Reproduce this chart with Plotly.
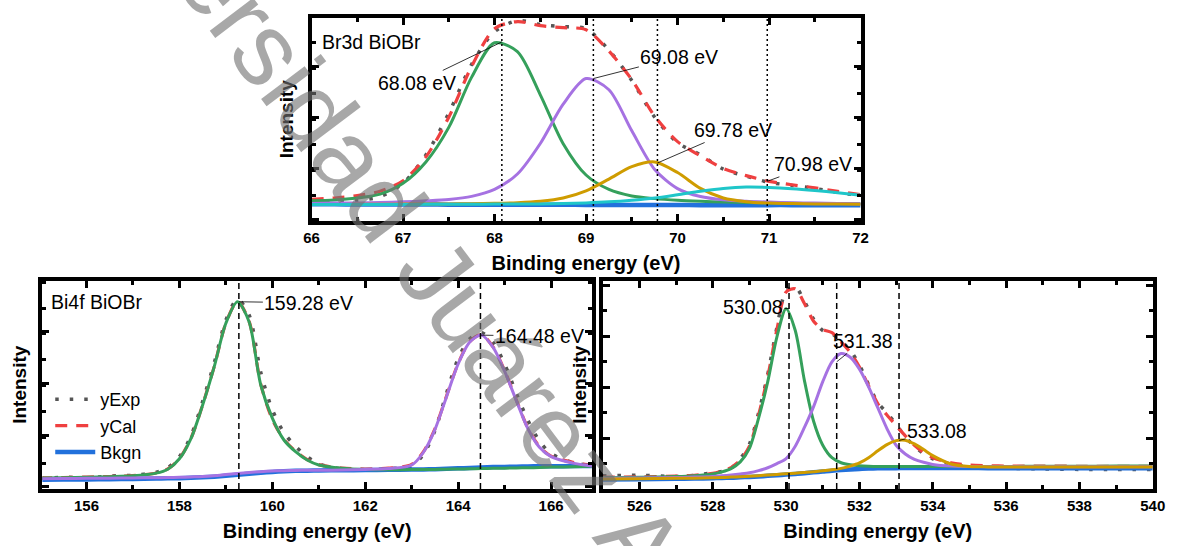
import plotly.graph_objects as go

FONT = "Liberation Sans, Arial, Helvetica, sans-serif"

# ---------------- Br3d BiOBr ----------------
br_energy = [66.0, 66.25, 66.5, 66.75, 67.0, 67.25, 67.5, 67.75, 68.0, 68.25, 68.5, 68.75,
             69.0, 69.25, 69.5, 69.75, 70.0, 70.25, 70.5, 70.75, 71.0, 71.25, 71.5, 71.75, 72.0]
br_exp = [8.5, 9.5, 10.0, 12.0, 18.5, 32.5, 53.0, 77.0, 93.0, 98.5, 96.5, 95.5,
          94.5, 84.0, 69.0, 51.0, 38.5, 32.5, 25.5, 22.0, 19.0, 17.5, 16.0, 14.0, 12.5]
br_cal = [10.7, 11.3, 12.5, 14.6, 19.8, 31.5, 51.0, 76.0, 94.5, 98.0, 96.0, 95.0,
          94.0, 83.5, 69.5, 51.5, 39.0, 32.0, 25.8, 22.3, 19.5, 17.8, 16.3, 14.6, 12.9]
br_bkg = [8.2, 8.2, 8.1, 8.1, 8.1, 8.1, 8.0, 8.0, 8.0, 8.0, 8.0, 8.0,
          7.9, 7.9, 7.9, 7.9, 7.9, 7.8, 7.8, 7.8, 7.8, 7.8, 7.7, 7.7, 7.7]
br_p1 = [9.9, 10.3, 11.3, 13.2, 18.5, 29.0, 46.0, 70.7, 87.6, 83.2, 62.0, 38.0,
         22.6, 15.5, 12.3, 11.0, 10.2, 9.7, 9.3, 9.1, 8.9, 8.7, 8.6, 8.6, 8.5]
br_p2 = [8.6, 8.8, 8.9, 9.1, 9.4, 9.9, 10.6, 12.1, 15.5, 23.1, 38.1, 57.4,
         70.0, 64.5, 44.3, 25.3, 15.9, 12.0, 10.4, 9.7, 9.3, 9.0, 8.8, 8.6, 8.5]
br_p3 = [8.1, 8.1, 8.2, 8.2, 8.3, 8.3, 8.4, 8.5, 8.7, 9.0, 9.7, 11.3,
         14.8, 20.6, 26.7, 29.0, 23.8, 16.0, 11.3, 9.5, 8.8, 8.6, 8.4, 8.3, 8.2]
br_p4 = [8.1, 8.1, 8.1, 8.1, 8.1, 8.2, 8.2, 8.2, 8.3, 8.3, 8.4, 8.6,
         8.9, 9.4, 10.2, 11.3, 12.9, 14.6, 16.0, 16.7, 16.5, 15.9, 15.0, 13.9, 12.7]
br_peaks = [68.08, 69.08, 69.78, 70.98]
br_peak_heights = [88.0, 70.0, 28.5, 19.5]

# ---------------- Bi4f BiOBr ----------------
bi_energy = [155.0, 155.5, 156.0, 156.5, 157.0, 157.5, 157.75, 158.0, 158.25, 158.5,
             158.75, 159.0, 159.25, 159.5, 159.75, 160.0, 160.25, 160.5, 160.75, 161.0,
             161.5, 162.0, 162.5, 163.0, 163.25, 163.5, 163.75, 164.0, 164.25, 164.5,
             164.75, 165.0, 165.25, 165.5, 165.75, 166.0, 166.5, 166.9]
bi_exp = [5.0, 5.6, 5.4, 6.2, 6.6, 8.0, 10.2, 15.5, 25.5, 42.0,
          60.5, 81.0, 91.0, 83.5, 56.0, 38.0, 27.0, 20.5, 15.5, 12.0,
          9.6, 9.2, 9.8, 11.0, 16.5, 28.0, 46.0, 62.5, 72.0, 75.0,
          70.5, 60.0, 46.0, 33.0, 23.0, 17.0, 12.5, 11.2]
bi_cal = [5.3, 5.5, 5.7, 6.0, 6.4, 7.7, 9.6, 14.6, 24.4, 40.4,
          58.8, 79.6, 89.9, 80.4, 50.3, 33.4, 23.8, 18.1, 14.1, 11.7,
          10.0, 9.6, 10.0, 11.8, 17.8, 28.8, 44.6, 60.2, 70.7, 74.0,
          68.2, 56.8, 42.8, 29.3, 20.3, 15.8, 12.6, 11.3]
bi_bkg = [4.4, 4.5, 4.6, 4.7, 4.8, 5.0, 5.1, 5.2, 5.4, 5.6,
          5.9, 6.3, 6.8, 7.3, 7.8, 8.2, 8.5, 8.7, 8.8, 8.9,
          9.0, 9.1, 9.2, 9.3, 9.4, 9.5, 9.7, 9.9, 10.1, 10.3,
          10.5, 10.6, 10.7, 10.8, 10.9, 10.9, 11.0, 11.0]
bi_p1 = [5.2, 5.4, 5.6, 5.9, 6.3, 7.6, 9.5, 14.5, 24.3, 40.3,
         58.7, 79.5, 89.8, 80.2, 50.0, 34.0, 23.5, 17.9, 13.9, 11.5,
         9.9, 9.3, 9.2, 9.3, 9.3, 9.4, 9.5, 9.6, 9.7, 9.8,
         9.9, 10.0, 10.1, 10.2, 10.3, 10.5, 10.7, 10.9]
bi_p2 = [4.9, 5.0, 5.1, 5.2, 5.3, 5.4, 5.5, 5.6, 5.8, 6.0,
         6.4, 6.9, 7.4, 7.9, 8.3, 8.6, 8.8, 8.9, 9.0, 9.0,
         9.1, 9.4, 9.8, 11.5, 17.5, 28.5, 44.3, 60.0, 70.5, 73.8,
         68.0, 56.5, 42.5, 29.0, 20.0, 15.5, 12.3, 11.0]
bi_peaks = [159.28, 164.48]
bi_peak_heights = [89.8, 73.8]

# ---------------- O1s ----------------
o_energy = [525.0, 526.0, 527.0, 527.5, 528.0, 528.25, 528.5, 528.75, 529.0, 529.25,
            529.5, 529.75, 530.0, 530.25, 530.5, 530.75, 531.0, 531.25, 531.5, 531.75,
            532.0, 532.25, 532.5, 532.75, 533.0, 533.25, 533.5, 533.75, 534.0, 534.5,
            535.0, 535.5, 536.0, 537.0, 538.0, 539.0, 540.0]
o_exp = [6.3, 6.6, 6.0, 6.5, 7.8, 8.4, 10.0, 14.5, 21.5, 36.5,
         55.0, 77.5, 95.0, 97.0, 90.0, 81.5, 76.0, 74.5, 71.0, 66.5,
         59.5, 50.0, 41.5, 36.5, 31.0, 25.0, 20.5, 17.0, 14.5, 12.0,
         10.8, 10.5, 10.0, 9.6, 9.4, 9.3, 9.4]
o_cal = [5.6, 5.8, 6.2, 6.6, 7.5, 8.6, 10.3, 13.8, 20.5, 35.5,
         54.0, 76.5, 94.5, 96.0, 89.0, 80.5, 76.5, 75.0, 70.5, 65.5,
         58.5, 49.5, 41.0, 35.5, 30.5, 25.5, 21.0, 17.5, 15.0, 12.5,
         11.5, 11.2, 11.0, 11.0, 10.9, 10.9, 10.9]
o_bkg = [4.6, 4.7, 4.9, 5.0, 5.2, 5.3, 5.4, 5.6, 5.8, 6.0,
         6.3, 6.6, 6.9, 7.2, 7.6, 8.0, 8.4, 8.8, 9.1, 9.4,
         9.6, 9.8, 9.9, 10.0, 10.0, 10.1, 10.1, 10.1, 10.1, 10.1,
         10.1, 10.0, 10.0, 10.0, 9.9, 9.9, 9.9]
o_p1 = [5.4, 5.6, 6.0, 6.4, 7.2, 8.2, 9.8, 13.0, 19.5, 34.0,
        51.5, 73.0, 86.5, 76.0, 52.0, 32.5, 21.0, 15.0, 12.6, 11.6,
        11.1, 10.9, 10.8, 10.8, 10.8, 10.8, 10.8, 10.8, 10.8, 10.8,
        10.8, 10.8, 10.8, 10.9, 10.9, 11.0, 11.0]
o_p2 = [5.2, 5.3, 5.5, 5.7, 6.0, 6.3, 6.7, 7.2, 7.8, 8.8,
        10.2, 12.2, 14.6, 20.5, 29.5, 39.5, 51.5, 61.0, 65.0, 63.2,
        57.5, 49.0, 39.0, 29.0, 21.0, 16.8, 14.2, 12.8, 11.8, 11.0,
        10.8, 10.7, 10.7, 10.7, 10.7, 10.7, 10.7]
o_p3 = [4.8, 4.9, 5.1, 5.2, 5.4, 5.5, 5.7, 5.9, 6.1, 6.4,
        6.7, 7.0, 7.3, 7.6, 7.9, 8.3, 8.7, 9.2, 9.9, 11.0,
        12.5, 15.0, 18.3, 21.3, 23.2, 23.4, 21.6, 18.9, 16.0, 12.0,
        10.8, 10.6, 10.6, 10.6, 10.6, 10.6, 10.6]
o_peaks = [530.08, 531.38, 533.08]
o_peak_heights = [86.5, 61.0, 23.3]

# ---------------- styles ----------------
C_EXP = "#555555"
C_CAL = "#ef4040"
C_BKG = "#2271dc"
C_GREEN = "#35a05b"
C_PURPLE = "#a672e2"
C_GOLD = "#cf9c00"
C_CYAN = "#1fc6c9"

fig = go.Figure()


def line(x, y, xa, ya, color, width, dash="solid", name=None, legend=False):
    fig.add_trace(go.Scatter(
        x=x, y=y, xaxis=xa, yaxis=ya, mode="lines", name=name,
        line=dict(color=color, width=width, dash=dash, shape="spline", smoothing=0.8),
        showlegend=legend, legendgroup=name, hoverinfo="skip"))


def panel(x, exp, cal, bkg, comps, xa, ya, legend):
    line(x, exp, xa, ya, C_EXP, 3.5, "3.5px,11px", "yExp", legend)
    line(x, cal, xa, ya, C_CAL, 3.2, "12px,9px", "yCal", legend)
    line(x, bkg, xa, ya, C_BKG, 4.5, "solid", "Bkgn", legend)
    for ys, col in comps:
        line(x, ys, xa, ya, col, 3)


panel(br_energy, br_exp, br_cal, br_bkg,
      [(br_p1, C_GREEN), (br_p2, C_PURPLE), (br_p3, C_GOLD), (br_p4, C_CYAN)], "x", "y", False)
panel(bi_energy, bi_exp, bi_cal, bi_bkg,
      [(bi_p1, C_GREEN), (bi_p2, C_PURPLE)], "x2", "y2", True)
panel(o_energy, o_exp, o_cal, o_bkg,
      [(o_p1, C_GREEN), (o_p2, C_PURPLE), (o_p3, C_GOLD)], "x3", "y3", False)

W, H = 1182, 546


def frame_axis(**kw):
    base = dict(showline=True, linewidth=4, linecolor="black", mirror="ticks",
                ticks="inside", ticklen=7, tickwidth=3, tickcolor="black",
                showgrid=False, zeroline=False)
    base.update(kw)
    return base


def xaxis(dom, rng, dtick, tick0, minor, anchor):
    return frame_axis(
        domain=dom, range=rng, dtick=dtick, tick0=tick0, anchor=anchor,
        minor=dict(ticks="inside", ticklen=4, tickwidth=2.5, dtick=minor, tickcolor="black"),
        tickfont=dict(family=FONT, size=15, color="black", weight="bold"),
        title=dict(text="Binding energy (eV)", standoff=12,
                   font=dict(family=FONT, size=20, color="black", weight="bold")))


def yaxis(dom, tick0, dtick, standoff, anchor):
    return frame_axis(
        domain=dom, range=[0, 100], tick0=tick0, dtick=dtick, showticklabels=False,
        anchor=anchor,
        minor=dict(ticks="inside", ticklen=4, tickwidth=2.5, dtick=dtick / 2, tickcolor="black"),
        title=dict(text="Intensity", standoff=standoff,
                   font=dict(family=FONT, size=19, color="black", weight="bold")))


top_x = [309 / W, 868 / W]
top_y = [1 - 221 / H, 1 - 17.5 / H]
bl_x = [35 / W, 594.5 / W]
br_x = [605.5 / W, 1165.5 / W]
bot_y = [1 - 489 / H, 1 - 280.5 / H]

fig.update_layout(
    width=W, height=H,
    margin=dict(l=0, r=0, t=0, b=0),
    paper_bgcolor="white", plot_bgcolor="rgba(0,0,0,0)",
    font=dict(family=FONT, color="black"),
    xaxis=xaxis(top_x, [66, 72], 1, 66, 0.5, "y"),
    yaxis=yaxis(top_y, 0.8, 25, 10, "x"),
    xaxis2=xaxis(bl_x, [155.05, 166.88], 2, 156, 1, "y2"),
    yaxis2=yaxis(bot_y, 1, 24.8, 8, "x2"),
    xaxis3=xaxis(br_x, [525, 540], 2, 526, 1, "y3"),
    yaxis3=yaxis(bot_y, 0, 24.4, 8, "x3"),
    legend=dict(x=43 / W, y=1 - 381 / H, xanchor="left", yanchor="top",
                bgcolor="rgba(0,0,0,0)", font=dict(family=FONT, size=18, color="black"),
                tracegroupgap=0, itemwidth=40),
)

# peak position markers
shapes = []
for xs, ref, dash in ((br_peaks, "x", "2px,3px"), (bi_peaks, "x2", "6px,4px"),
                      (o_peaks, "x3", "6px,4px")):
    yref = ref.replace("x", "y") + " domain"
    for v in xs:
        shapes.append(dict(type="line", xref=ref, yref=yref, x0=v, x1=v, y0=0, y1=1,
                           line=dict(color="black", width=1.5, dash=dash)))
fig.update_layout(shapes=shapes)

ann = []
# watermark
ann.append(dict(text="Universidad Juárez Autónoma", xref="paper", yref="paper",
                x=490 / W, y=1 - 342 / H, xanchor="center", yanchor="middle",
                showarrow=False, textangle=53,
                font=dict(family=FONT, size=103, color="rgba(115,115,115,0.62)")))


def label(text, xv, yv, ref, ax, ay):
    ann.append(dict(text=text, x=xv, y=yv, xref=ref, yref=ref.replace("x", "y"),
                    showarrow=True, arrowhead=0, arrowwidth=0.8, arrowcolor="black",
                    ax=ax, ay=ay, font=dict(family=FONT, size=19.5, color="black")))


br_offsets = [(-85, 41), (86, -22), (76, -33), (46, -17)]
for v, h, (ax, ay) in zip(br_peaks, br_peak_heights, br_offsets):
    label(f"{v:.2f} eV", v, h, "x", ax, ay)
bi_offsets = [(70, 1), (59, 1)]
for v, h, (ax, ay) in zip(bi_peaks, bi_peak_heights, bi_offsets):
    label(f"{v:.2f} eV", v, h, "x2", ax, ay)
o_offsets = [(-36, -2), (26, -21), (38, -9)]
for v, h, (ax, ay) in zip(o_peaks, o_peak_heights, o_offsets):
    label(f"{v:.2f}", v, h, "x3", ax, ay)

for text, px, py in (("Br3d BiOBr", 370, 42), ("Bi4f BiOBr", 90.5, 302)):
    ann.append(dict(text=text, xref="paper", yref="paper", x=px / W, y=1 - py / H,
                    xanchor="center", yanchor="middle", showarrow=False,
                    font=dict(family=FONT, size=19.5, color="black")))
fig.update_layout(annotations=ann)

fig.write_html("out.html")
